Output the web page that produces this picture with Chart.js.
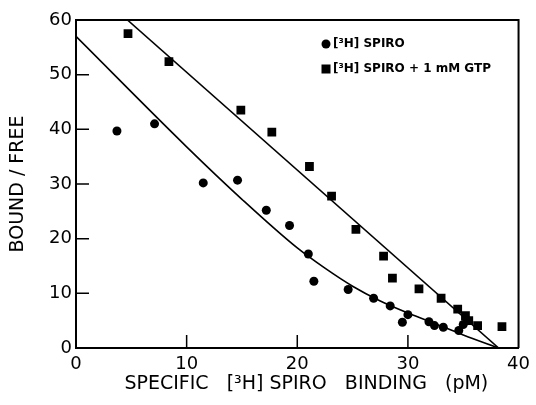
<!DOCTYPE html>
<html>
<head>
<meta charset="utf-8">
<script src="https://cdn.jsdelivr.net/npm/chart.js@4.4.1/dist/chart.umd.min.js"></script>
<style>
  html, body { margin: 0; padding: 0; background: #fff; }
  #wrap { width: 536px; height: 405px; }
</style>
</head>
<body>
<div id="wrap"><canvas id="chart" width="536" height="405"></canvas></div>
<script>
// values
const spiroX = [3.7, 7.1, 11.5, 14.6, 17.2, 19.3, 21.0, 21.5, 24.6, 26.9, 28.4, 29.5, 30.0, 31.9, 32.4, 33.2, 34.6, 35.0, 35.4];
const spiroY = [39.7, 41.0, 30.2, 30.7, 25.2, 22.4, 17.2, 12.2, 10.7, 9.1, 7.7, 4.7, 6.1, 4.8, 4.1, 3.8, 3.2, 4.3, 5.0];

const gtpX = [4.7, 8.4, 14.9, 17.7, 21.1, 23.1, 25.3, 27.8, 28.6, 31.0, 33.0, 34.5, 35.2, 35.5, 36.3, 38.5];
const gtpY = [57.5, 52.4, 43.5, 39.5, 33.2, 27.8, 21.7, 16.8, 12.8, 10.8, 9.1, 7.1, 5.9, 5.0, 4.1, 3.9];

// fitted curves as drawn in the figure
const curveX = [0, 10, 15, 20, 22.5, 25, 27.5, 30, 32.5, 35, 38.2];
const curveY = [57.0, 36.8, 27.2, 18.3, 14.6, 11.3, 8.6, 6.4, 4.4, 2.4, 0];
const gtpLineX = [4.65, 38.2];
const gtpLineY = [60, 0];

const xTicks = [0, 10, 20, 30, 40];
const yTicks = [0, 10, 20, 30, 40, 50, 60];

const labels = ['[³H] SPIRO', '[³H] SPIRO + 1 mM GTP'];

const pts = (xs, ys) => xs.map((x, i) => ({ x: x, y: ys[i] }));

// frame on top/right, inward tick marks, in-plot legend
const framePlugin = {
  id: 'frame',
  afterDraw(chart) {
    const { ctx, chartArea: a } = chart;
    const xs = chart.scales.x, ys = chart.scales.y;
    ctx.save();
    ctx.strokeStyle = '#000';
    ctx.lineWidth = 2;
    ctx.beginPath();
    ctx.moveTo(a.left, a.top);
    ctx.lineTo(a.right, a.top);
    ctx.lineTo(a.right, a.bottom);
    ctx.stroke();
    ctx.lineWidth = 1.5;
    ctx.beginPath();
    yTicks.slice(1, -1).forEach(v => {
      const py = ys.getPixelForValue(v);
      ctx.moveTo(a.left, py);
      ctx.lineTo(a.left + 13, py);
    });
    xTicks.slice(1, -1).forEach(v => {
      const px = xs.getPixelForValue(v);
      ctx.moveTo(px, a.bottom);
      ctx.lineTo(px, a.bottom - 13);
    });
    ctx.stroke();

    // legend
    ctx.fillStyle = '#000';
    ctx.font = 'bold 12px "DejaVu Sans"';
    ctx.textBaseline = 'middle';
    ctx.textAlign = 'left';
    const lx = 326, ly = [44, 69];
    chart.data.datasets.slice(0, 2).forEach((ds, i) => {
      ctx.beginPath();
      if (ds.pointStyle === 'rect') {
        ctx.fillRect(lx - 4.5, ly[i] - 4.5, 9, 9);
      } else {
        ctx.arc(lx, ly[i], 4.5, 0, Math.PI * 2);
        ctx.fill();
      }
      ctx.fillText(ds.label, lx + 7, ly[i]);
    });
    ctx.restore();
  }
};

new Chart(document.getElementById('chart'), {
  type: 'scatter',
  data: {
    datasets: [
      {
        label: labels[0],
        data: pts(spiroX, spiroY),
        pointStyle: 'circle',
        pointRadius: 4.5,
        backgroundColor: '#000',
        borderColor: '#000',
        borderWidth: 0
      },
      {
        label: labels[1],
        data: pts(gtpX, gtpY),
        pointStyle: 'rect',
        pointRadius: 6.2,
        backgroundColor: '#000',
        borderColor: '#000',
        borderWidth: 0
      },
      {
        label: 'fit',
        data: pts(curveX, curveY),
        showLine: true,
        pointRadius: 0,
        borderColor: '#000',
        borderWidth: 1.6,
        cubicInterpolationMode: 'monotone'
      },
      {
        label: 'fit GTP',
        data: pts(gtpLineX, gtpLineY),
        showLine: true,
        pointRadius: 0,
        borderColor: '#000',
        borderWidth: 1.6
      }
    ]
  },
  options: {
    responsive: false,
    animation: false,
    layout: { padding: { top: 20, right: 13, left: 0, bottom: 0 } },
    plugins: {
      legend: { display: false },
      tooltip: { enabled: false }
    },
    scales: {
      x: {
        type: 'linear',
        min: 0,
        max: 40,
        afterFit(s) { s.height = 57; },
        afterBuildTicks(s) { s.ticks = xTicks.map(v => ({ value: v })); },
        grid: { display: false, drawTicks: false },
        border: { display: true, color: '#000', width: 2 },
        ticks: {
          padding: 6,
          color: '#000',
          font: { family: 'DejaVu Sans', size: 18 }
        },
        title: {
          display: true,
          text: '   SPECIFIC   [³H] SPIRO   BINDING   (pM)',
          color: '#000',
          font: { family: 'DejaVu Sans', size: 19 },
          padding: { top: 0, bottom: 10 }
        }
      },
      y: {
        type: 'linear',
        min: 0,
        max: 60,
        afterFit(s) { s.width = 76; },
        afterBuildTicks(s) { s.ticks = yTicks.map(v => ({ value: v })); },
        grid: { display: false, drawTicks: false },
        border: { display: true, color: '#000', width: 2 },
        ticks: {
          padding: 4,
          color: '#000',
          font: { family: 'DejaVu Sans', size: 18 }
        },
        title: {
          display: true,
          text: 'BOUND / FREE',
          color: '#000',
          font: { family: 'DejaVu Sans', size: 19 },
          padding: { top: 7, bottom: 0 }
        }
      }
    }
  },
  plugins: [framePlugin]
});
</script>
</body>
</html>
